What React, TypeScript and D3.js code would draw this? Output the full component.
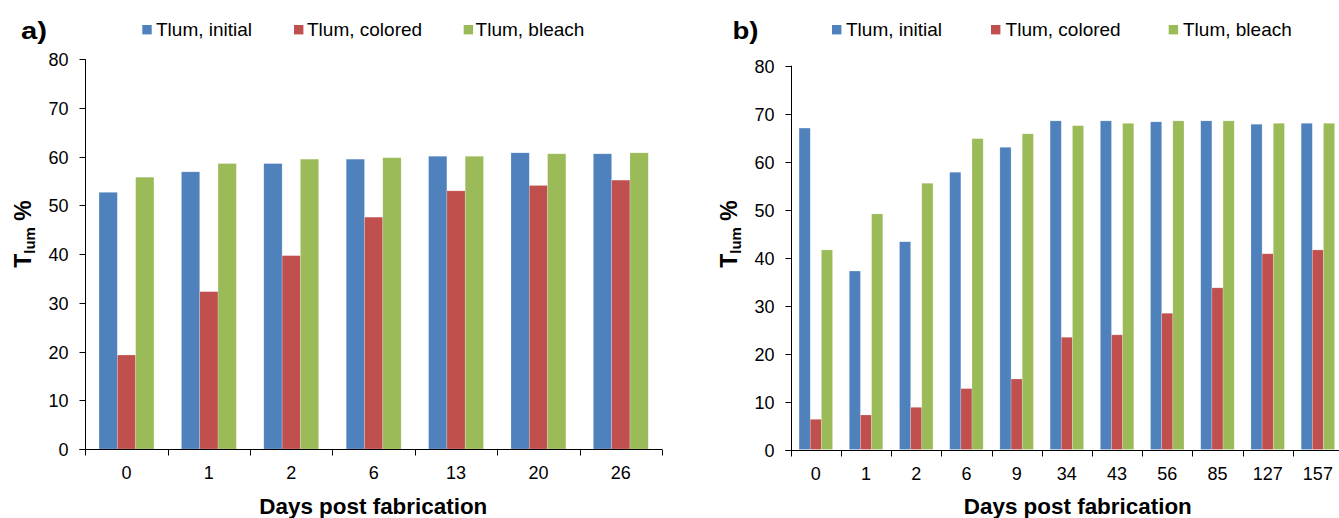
import React from "react";
import * as d3 from "d3";

const seriesNames = ["Tlum, initial", "Tlum, colored", "Tlum, bleach"];
const seriesColors = ["#4F81BD", "#C0504D", "#9BBB59"];
const yTicks = [0, 10, 20, 30, 40, 50, 60, 70, 80];

const daysA = ["0", "1", "2", "6", "13", "20", "26"];
const initialA = [52.7, 56.9, 58.6, 59.5, 60.1, 60.8, 60.6];
const coloredA = [19.3, 32.3, 39.7, 47.6, 53.0, 54.1, 55.2];
const bleachA = [55.8, 58.6, 59.5, 59.8, 60.1, 60.6, 60.8];

const daysB = ["0", "1", "2", "6", "9", "34", "43", "56", "85", "127", "157"];
const initialB = [67.0, 37.2, 43.3, 57.8, 63.0, 68.5, 68.5, 68.3, 68.5, 67.8, 68.0];
const coloredB = [6.3, 7.2, 8.8, 12.7, 14.7, 23.4, 23.9, 28.4, 33.7, 40.8, 41.6];
const bleachB = [41.6, 49.1, 55.5, 64.8, 65.8, 67.5, 68.0, 68.5, 68.5, 68.0, 68.0];

const FONT = "'Liberation Sans', Arial, sans-serif";

type PanelProps = {
  label: string;
  days: string[];
  series: number[][];
  x0: number;
  x1: number;
  yTop: number;
  yBottom: number;
  legendMarkX: number[];
  legendTextX: number[];
  labelX: number;
  titleCx: number;
};

function Panel(p: PanelProps) {
  const x = d3.scaleBand<string>().domain(p.days).range([p.x0, p.x1]).paddingInner(0).paddingOuter(0);
  const inner = d3
    .scaleBand<string>()
    .domain(seriesNames)
    .range([0, x.bandwidth()])
    .paddingInner(0)
    .paddingOuter(0.75);
  const y = d3.scaleLinear().domain([0, 80]).range([p.yBottom, p.yTop]);
  const y0 = Math.round(y(0)) + 0.5;
  const axisX = Math.round(p.x0) + 0.5;
  const boundaries = p.days.map((d) => x(d)!).concat([p.x1]);
  const yMid = 234;

  return (
    <g>
      <text x={p.labelX} y={39} fontFamily={FONT} fontWeight="bold" fontSize={23} textLength={26} lengthAdjust="spacingAndGlyphs">
        {p.label}
      </text>
      {seriesNames.map((s, i) => (
        <g key={s}>
          <rect x={p.legendMarkX[i]} y={25} width={9.4} height={9.4} fill={seriesColors[i]} />
          <text x={p.legendTextX[i]} y={36} fontFamily={FONT} fontSize={19}>
            {s}
          </text>
        </g>
      ))}
      {p.days.map((d, di) => (
        <g key={d}>
          {seriesNames.map((s, si) => {
            const v = p.series[si][di];
            const bx = x(d)! + inner(s)!;
            return (
              <rect
                key={s}
                x={bx}
                y={y(v)}
                width={inner.bandwidth()}
                height={y(0) - y(v)}
                fill={seriesColors[si]}
                stroke="rgba(255,255,255,0.35)"
                strokeWidth={0.6}
              />
            );
          })}
        </g>
      ))}
      <line x1={axisX} x2={axisX} y1={y(80)} y2={y0} stroke="#000" strokeWidth={1} />
      {yTicks.map((t) => {
        const ty = Math.round(y(t)) + 0.5;
        return (
          <g key={t}>
            <line x1={axisX - 6} x2={axisX} y1={ty} y2={ty} stroke="#000" strokeWidth={1} />
            <text x={axisX - 17} y={ty} dy="0.36em" textAnchor="end" fontFamily={FONT} fontSize={18}>
              {t}
            </text>
          </g>
        );
      })}
      <line x1={axisX - 6} x2={p.x1} y1={y0} y2={y0} stroke="#000" strokeWidth={1} />
      {boundaries.map((bx, i) => (
        <line key={i} x1={Math.round(bx) + 0.5} x2={Math.round(bx) + 0.5} y1={y0} y2={y0 + 6} stroke="#000" strokeWidth={1} />
      ))}
      {p.days.map((d) => (
        <text
          key={d}
          x={x(d)! + x.bandwidth() / 2}
          y={y0 + 29}
          textAnchor="middle"
          fontFamily={FONT}
          fontSize={18}
        >
          {d}
        </text>
      ))}
      <text
        x={p.titleCx}
        y={514}
        textAnchor="middle"
        fontFamily={FONT}
        fontWeight="bold"
        fontSize={21.5}
        textLength={228}
        lengthAdjust="spacingAndGlyphs"
      >
        Days post fabrication
      </text>
      <text
        transform={`translate(${p.x0 - 54},${yMid}) rotate(-90)`}
        textAnchor="middle"
        fontFamily={FONT}
        fontWeight="bold"
        fontSize={23}
      >
        T<tspan fontSize={15} dy={4}>lum</tspan>
        <tspan dy={-4}> %</tspan>
      </text>
    </g>
  );
}

export default function App() {
  return (
    <svg
      width={1339}
      height={518}
      style={{ position: "absolute", left: 0, top: 0, background: "#fff" }}
    >
      <rect width={1339} height={518} fill="#fff" />
      <Panel
        label="a)"
        days={daysA}
        series={[initialA, coloredA, bleachA]}
        x0={85.3}
        x1={662}
        yTop={59.3}
        yBottom={449}
        legendMarkX={[142.3, 294, 463.7]}
        legendTextX={[156, 307, 475.6]}
        labelX={21}
        titleCx={373.3}
      />
      <Panel
        label="b)"
        days={daysB}
        series={[initialB, coloredB, bleachB]}
        x0={790.7}
        x1={1343}
        yTop={65.7}
        yBottom={449.5}
        legendMarkX={[832, 991, 1168.7]}
        legendTextX={[846, 1005.6, 1183]}
        labelX={732.5}
        titleCx={1077.8}
      />
    </svg>
  );
}
